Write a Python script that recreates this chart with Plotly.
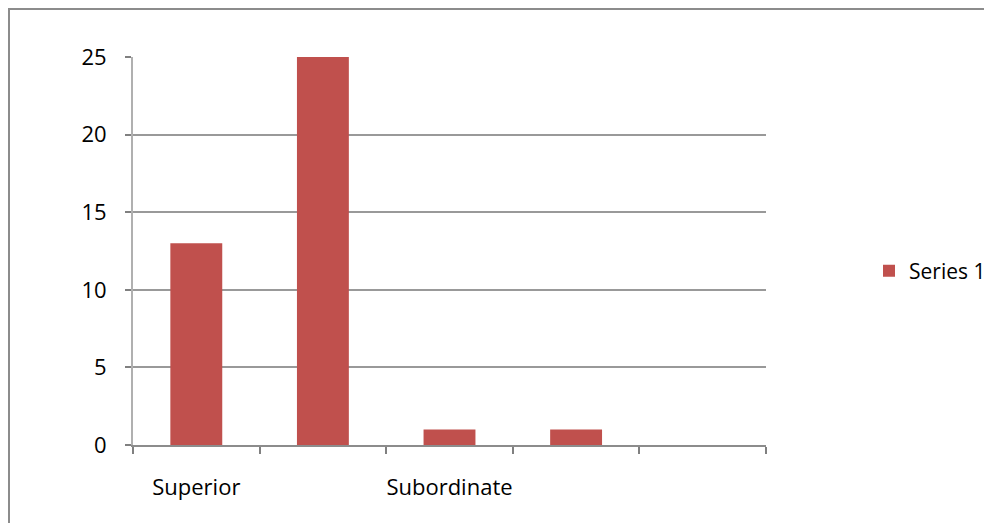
import plotly.graph_objects as go

categories = ["Superior", " ", "Subordinate", "  ", "   "]
values = [13, 25, 1, 1, 0]
series_name = "Series 1"
y_ticks = [0, 5, 10, 15, 20, 25]

W, H = 992, 531
OFF = 8  # page body margin shift
# target plot area in screen pixels
X0, X1, Y0, Y1 = 133, 766, 57, 445
L = X0 - OFF
T = Y0 - OFF
R = W - X1
B = H - Y1 - OFF
pw, ph = X1 - X0, Y1 - Y0

fig = go.Figure()
fig.add_trace(go.Bar(
    x=categories, y=values, name=series_name,
    marker=dict(color="#C0504D", line=dict(width=0)),
    showlegend=True,
))

fig.update_layout(
    width=W - OFF, height=H - 2 * OFF,
    margin=dict(l=L, r=R, t=T, b=B, pad=0, autoexpand=False),
    paper_bgcolor="white", plot_bgcolor="white",
    bargap=0.59,
    font=dict(family="Open Sans", size=22, color="#000000"),
    showlegend=True,
    legend=dict(x=(869 - X0) / pw, xanchor="left", y=(Y1 - 271) / ph, yanchor="middle",
                font=dict(size=21), bgcolor="rgba(0,0,0,0)"),
    xaxis=dict(
        type="category", tickson="boundaries", ticks="outside", ticklen=7,
        tickcolor="#808080", tickwidth=1.5, tickangle=0, automargin=False,
        showline=True, linecolor="#8c8c8c", linewidth=2,
        showgrid=False, ticklabelstandoff=22,
        range=[-0.5, 4.5],
    ),
    yaxis=dict(
        range=[0, 25], tickvals=y_ticks, ticks="outside", ticklen=6,
        tickcolor="#808080", tickwidth=1.5, automargin=False,
        showline=True, linecolor="#b0b0b0", linewidth=2,
        showgrid=True, gridcolor="#999999", gridwidth=2,
        zeroline=False, ticklabelstandoff=14,
    ),
    shapes=[dict(type="rect", xref="paper", yref="paper",
                 x0=(9 - X0) / pw, x1=1.5, y0=-0.5, y1=(Y1 - 9) / ph,
                 line=dict(color="#8c8c8c", width=2), layer="below")],
)

fig.write_html("out.html")
